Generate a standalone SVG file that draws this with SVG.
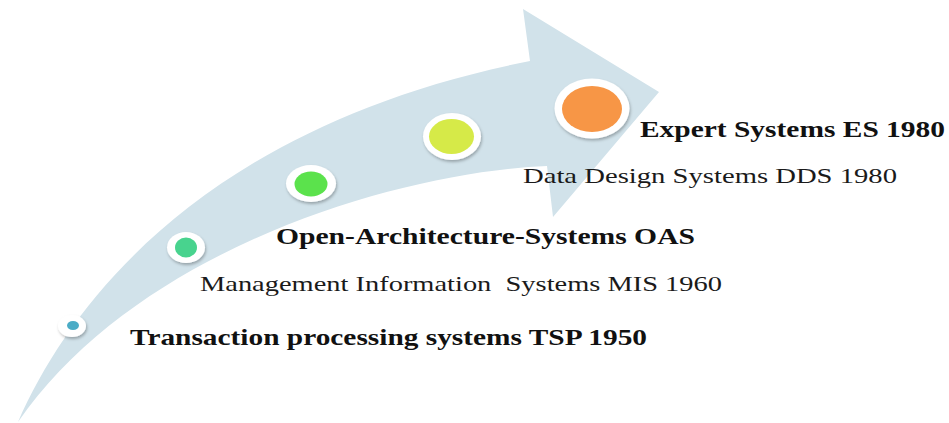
<svg xmlns="http://www.w3.org/2000/svg" width="949" height="423" viewBox="0 0 949 423">
  <defs>
    <filter id="ringShadow" x="-40%" y="-40%" width="180%" height="180%">
      <feDropShadow dx="1" dy="2" stdDeviation="1.6" flood-color="#000" flood-opacity="0.28"/>
    </filter>
    <style>
      .arrow { fill: #d1e2ea; }
      .ring { fill: #ffffff; filter: url(#ringShadow); }
      .bold { font-family: "Liberation Serif", "Times New Roman", serif; font-weight: bold; font-size: 23.5px; fill: #111; }
      .reg { font-family: "Liberation Serif", "Times New Roman", serif; font-size: 21px; fill: #1a1a1a; }
    </style>
  </defs>

  <rect width="949" height="423" fill="#ffffff"/>

  <!-- curved rising arrow -->
  <g id="arrow">
    <path class="arrow" d="M 18,422 C 80,280 230,120 530,61 L 523,9 L 659,92 L 553,217 L 547,166 C 400,172 138,248 18,422 Z"/>
  </g>

  <!-- milestones along the arrow; labels use a widened (1.25x) serif face -->
  <g id="node-tsp">
    <ellipse class="ring" cx="72" cy="326" rx="14" ry="11"/>
    <ellipse cx="73" cy="325.5" rx="6" ry="4.5" fill="#4bacc6"/>
    <text class="bold" transform="scale(1.25,1)" x="104" y="345" textLength="413.6" lengthAdjust="spacingAndGlyphs">Transaction processing systems TSP 1950</text>
  </g>

  <g id="node-mis">
    <ellipse class="ring" cx="186" cy="247.5" rx="19" ry="15.5"/>
    <ellipse cx="186" cy="247.5" rx="11" ry="10" fill="#48d38e"/>
    <text class="reg" transform="scale(1.25,1)" x="160" y="291" textLength="417.6" lengthAdjust="spacingAndGlyphs" xml:space="preserve">Management Information  Systems MIS 1960</text>
  </g>

  <g id="node-oas">
    <ellipse class="ring" cx="311" cy="183.5" rx="25" ry="18.5"/>
    <ellipse cx="311" cy="184" rx="16.5" ry="12.5" fill="#5be24c"/>
    <text class="bold" transform="scale(1.25,1)" x="220.8" y="244" textLength="335.2" lengthAdjust="spacingAndGlyphs">Open-Architecture-Systems OAS</text>
  </g>

  <g id="node-dds">
    <ellipse class="ring" cx="452" cy="136.5" rx="29" ry="23.5"/>
    <ellipse cx="451.5" cy="136.5" rx="22.5" ry="17.5" fill="#d6ea48"/>
    <text class="reg" transform="scale(1.25,1)" x="418.4" y="183" textLength="299.2" lengthAdjust="spacingAndGlyphs">Data Design Systems DDS 1980</text>
  </g>

  <g id="node-es">
    <ellipse class="ring" cx="592" cy="108.5" rx="37.5" ry="30"/>
    <ellipse cx="592" cy="109" rx="30" ry="23" fill="#f79646"/>
    <text class="bold" transform="scale(1.25,1)" x="512" y="137" textLength="244" lengthAdjust="spacingAndGlyphs">Expert Systems ES 1980</text>
  </g>
</svg>
